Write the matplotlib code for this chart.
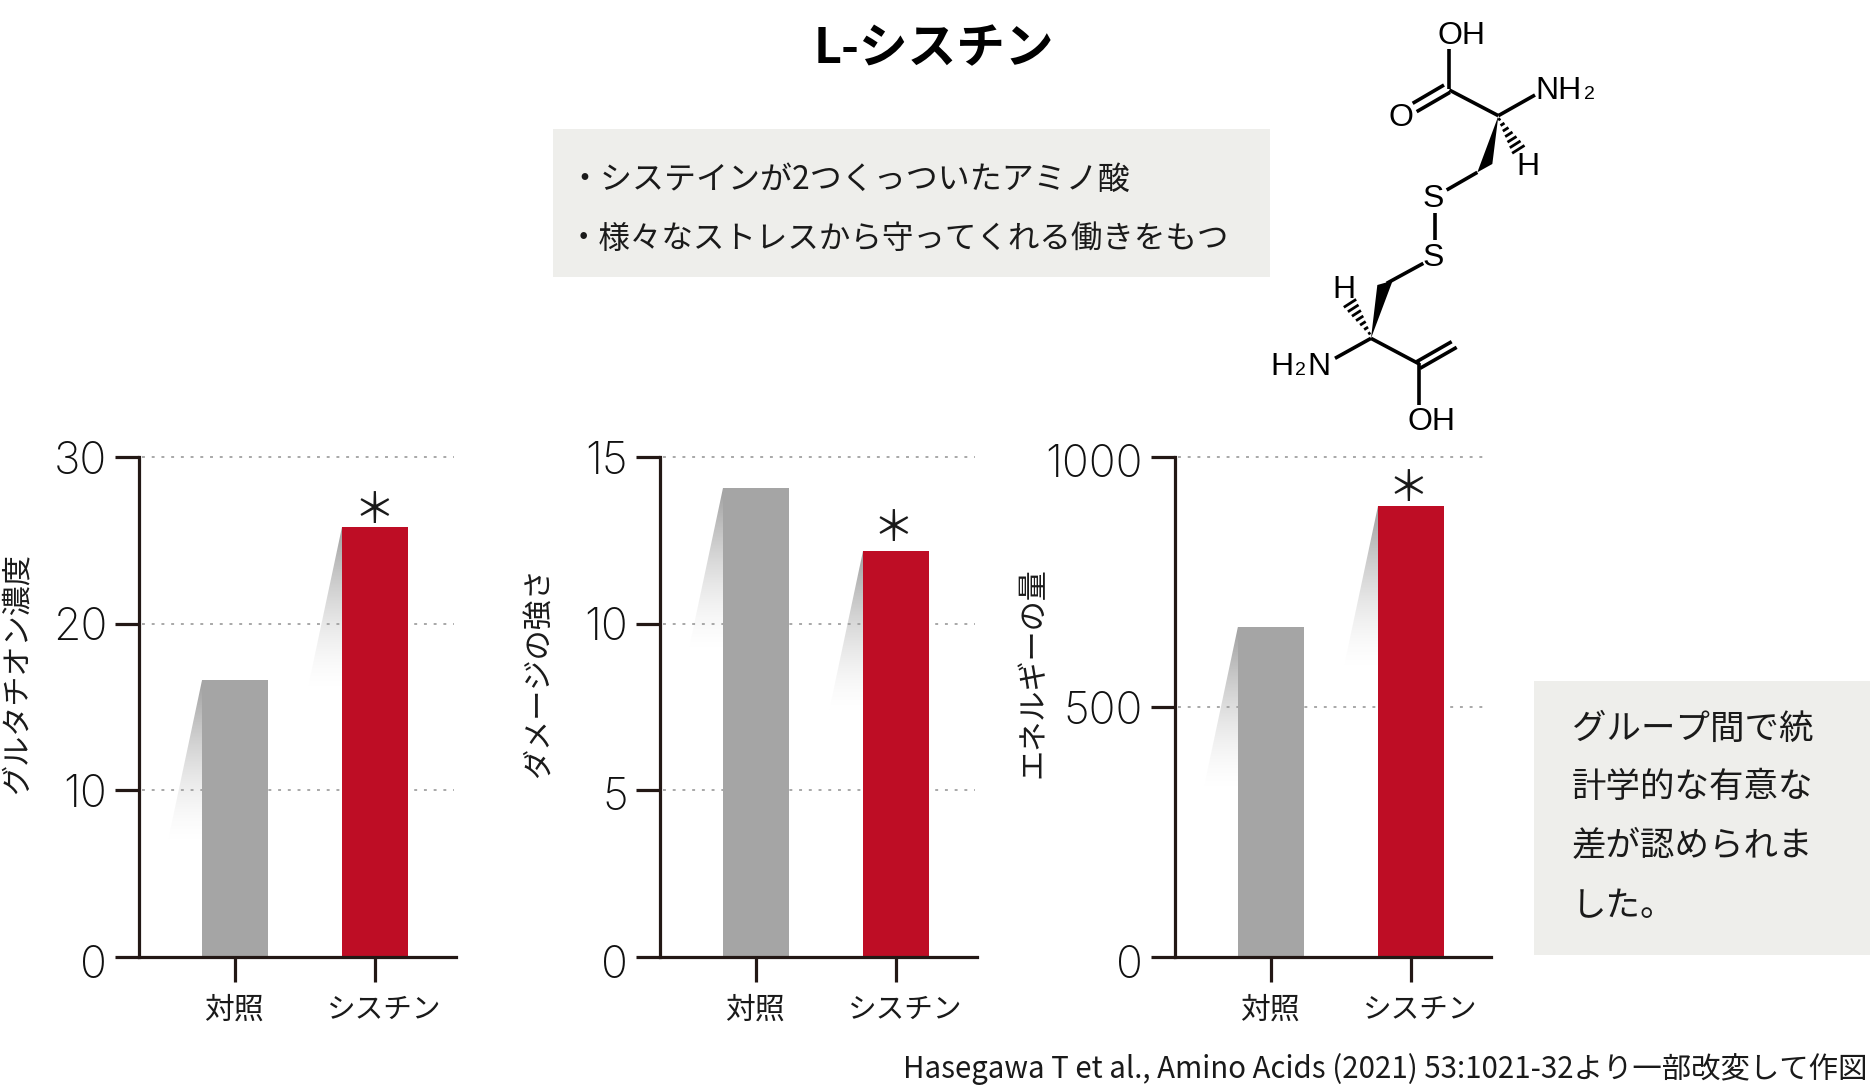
import matplotlib
matplotlib.use('Agg')
import matplotlib.pyplot as plt
import numpy as np
from matplotlib.patches import Polygon, Rectangle
from matplotlib.transforms import ScaledTranslation

W, H = 1870, 1088
JP = ['Noto Sans CJK JP', 'DejaVu Sans']
plt.rcParams['font.family'] = JP

# data
categories = ['対照', 'シスチン']
glutathione = [16.6, 25.8]
damage = [14.07, 12.18]
energy = [661, 902]
ylabels = ['グルタチオン濃度', 'ダメージの強さ', 'エネルギーの量']
yticks = [[0, 10, 20, 30], [0, 5, 10, 15], [0, 500, 1000]]
ymax = [30, 15, 1000]
stars = [1, 1, 1]

title = 'L-シスチン'
box_lines = ['・システインが2つくっついたアミノ酸', '・様々なストレスから守ってくれる働きをもつ']
note_lines = ['グループ間で統', '計学的な有意な', '差が認められま', 'した。']
source = 'Hasegawa T et al., Amino Acids (2021) 53:1021-32より一部改変して作図'

# panel layout in pixels: axis x, right end of baseline, first tick x, second tick x, label x
panels = [(139, 456, 235, 375, 17),
          (660, 977, 756, 896, 539),
          (1175, 1491, 1271, 1411, 1033)]
star_off = [(-1, 16), (-3, 22), (-3, 17)]
Y_TOP, Y_ZERO = 457, 957
BAR_W = 66
INK = '#231815'
BOX = '#EEEEEB'
colors = ['#A5A5A5', '#BE0D25']

fig = plt.figure(figsize=(W / 100, H / 100), dpi=100, facecolor='white')

# pixel overlay for boxes, text and the molecule
bg = fig.add_axes([0, 0, 1, 1], zorder=0)
bg.set_xlim(0, W)
bg.set_ylim(H, 0)
bg.axis('off')
bg.add_patch(Rectangle((553, 129), 717, 148, fc=BOX, ec='none'))
bg.add_patch(Rectangle((1534, 681), 336, 274, fc=BOX, ec='none'))

bg.text(934, 49, title, fontsize=35, fontweight='bold', ha='center', va='center', color='black')
for y, s, size in zip([180, 239], box_lines, [23, 22.7]):
    bg.text(568, y, s, fontsize=size, ha='left', va='center', color='#1a1a1a')
for y, s in zip([729, 788, 847, 907], note_lines):
    bg.text(1572, y, s, fontsize=24.8, ha='left', va='center', color='#1a1a1a')
bg.text(1867, 1069, source, fontsize=21.2, ha='right', va='center', color='#1a1a1a')


# molecule, coordinates measured in a 3x crop with origin (1240, 0)
def mx(v):
    return 1240 + np.asarray(v) / 3.0


def my(v):
    return np.asarray(v) / 3.0


bonds = [((628, 148), (628, 268)),
         ((612, 255), (518, 310)),
         ((630, 277), (530, 335)),
         ((628, 270), (775, 347)),
         ((775, 347), (885, 285)),
         ((712, 517), (620, 570)),
         ((585, 640), (585, 720)),
         ((550, 790), (440, 850)),
         ((393, 1015), (285, 1075)),
         ((393, 1015), (538, 1092)),
         ((538, 1090), (538, 1215)),
         ((530, 1085), (635, 1025)),
         ((540, 1105), (650, 1042))]
for a, b in bonds:
    bg.plot(mx([a[0], b[0]]), my([a[1], b[1]]), color='black', lw=2.6, solid_capstyle='butt')

wedges = [[(775, 348), (712, 517), (757, 492)],
          [(393, 1015), (412, 855), (458, 842)]]
for w in wedges:
    pts = [(mx(p[0]), my(p[1])) for p in w]
    bg.add_patch(Polygon(pts, fc='black', ec='none'))

hashes = [((778, 358), (835, 448)), ((388, 1000), (330, 910))]
for a, b in hashes:
    a = np.array(a, float)
    b = np.array(b, float)
    d = (b - a) / np.linalg.norm(b - a)
    n = np.array([-d[1], d[0]])
    for t, half in zip(np.linspace(0, 1, 7), np.linspace(4, 22, 7)):
        c = a + (b - a) * t
        p, q = c - n * half, c + n * half
        bg.plot(mx([p[0], q[0]]), my([p[1], q[1]]), color='black', lw=2.0, solid_capstyle='butt')

atoms = [('OH', 592, 133, 23), ('NH', 885, 297, 23), ('2', 1032, 297, 14), ('O', 446, 378, 23),
         ('H', 830, 525, 23), ('S', 547, 620, 23), ('S', 547, 798, 23), ('H', 277, 895, 23),
         ('H', 92, 1125, 23), ('2', 165, 1125, 14), ('N', 202, 1125, 23), ('OH', 503, 1290, 23)]
for s, x, y, size in atoms:
    bg.text(mx(x), my(y), s, family='Liberation Sans', fontsize=size, ha='left', va='baseline', color='black')

# panels
all_values = [glutathione, damage, energy]
for i, (values, p) in enumerate(zip(all_values, panels)):
    ax_x, end_x, t0, t1, lab_x = p
    ax = fig.add_axes([ax_x / W, 1 - Y_ZERO / H, (end_x - ax_x) / W, (Y_ZERO - Y_TOP) / H], zorder=1)
    ax.patch.set_alpha(0)
    px = t1 - t0  # pixels for one category step
    xlim = ((ax_x - t0) / px, (end_x - t0) / px)
    bar_w = BAR_W / px
    ppy = (Y_ZERO - Y_TOP) / ymax[i]
    x = np.arange(len(categories))

    for tick in yticks[i]:
        if tick > 0:
            ax.plot([xlim[0] + 3 / px, xlim[1] - 2 / px], [tick, tick], color='#A8A8A8', lw=1.4,
                    ls=(0, (1.5, 3.5)), zorder=1, clip_on=False)

    # fading shadow at the upper left of each bar
    grad = np.zeros((128, 2, 4))
    grad[..., :3] = 0.62
    grad[..., 3] = (np.linspace(1, 0, 128) ** 1.6)[:, None]
    for xi, v in zip(x, values):
        left = xi - bar_w / 2
        dx, dy = 35 / px, 165 / ppy
        im = ax.imshow(grad, extent=[left - dx, left, v - dy, v], origin='upper', aspect='auto',
                       zorder=2, interpolation='bilinear')
        im.set_clip_path(Polygon([(left, v), (left - dx, v - dy), (left, v - dy)], transform=ax.transData))

    ax.bar(x, values, width=bar_w, color=colors, zorder=3)
    ax.set_xlim(*xlim)
    ax.set_ylim(0, ymax[i])

    for name in ['top', 'right']:
        ax.spines[name].set_visible(False)
    for name in ['left', 'bottom']:
        ax.spines[name].set_color(INK)
        ax.spines[name].set_linewidth(2.3)
        ax.spines[name].set_zorder(5)

    ax.set_yticks(yticks[i])
    ax.set_yticklabels([str(t) for t in yticks[i]], fontsize=32, color='#111111', family='Inter', fontweight='light')
    ax.tick_params(axis='y', length=17, width=2.3, color=INK, pad=6)
    ax.set_xticks(x)
    ax.set_xticklabels([])
    ax.tick_params(axis='x', length=18, width=2.3, color=INK)

    # the reference sets a few of the numerals slightly low
    for lab, t in zip(ax.get_yticklabels(), yticks[i]):
        shift = 4 if t == 0 else 3 if t in (5, 1000) else 0
        lab.set_transform(lab.get_transform() + ScaledTranslation(0, -shift / 100, fig.dpi_scale_trans))

    for xi, name, off, size in zip(x, categories, [-1, 9], [21.5, 20.6]):
        ax.annotate(name, xy=(xi, 0), xytext=(off, -53), xycoords='data', textcoords='offset pixels',
                    fontsize=size, ha='center', va='center', color='#1a1a1a', annotation_clip=False)
    for xi, v in zip(x, values):
        if xi == stars[i]:
            ax.annotate('＊', xy=(xi, v), xytext=star_off[i], textcoords='offset pixels',
                        fontsize=30, ha='center', va='center', color='#1a1a1a', annotation_clip=False)
    bg.text(lab_x, 673, ylabels[i], fontsize=21.7, rotation=90, ha='center', va='center', color='#1a1a1a')

fig.savefig('out.png', dpi=100)
